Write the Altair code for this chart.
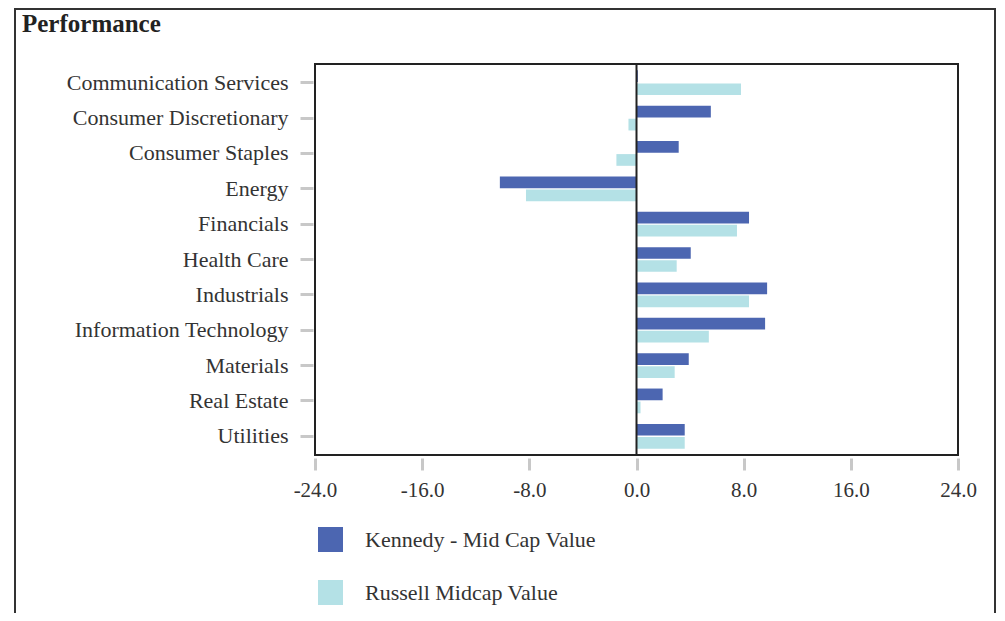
import altair as alt
import pandas as pd

categories = ["Communication Services", "Consumer Discretionary", "Consumer Staples", "Energy",
              "Financials", "Health Care", "Industrials", "Information Technology",
              "Materials", "Real Estate", "Utilities"]
series_names = ["Kennedy - Mid Cap Value", "Russell Midcap Value"]
kennedy = [0.1, 5.55, 3.15, -10.2, 8.4, 4.05, 9.75, 9.6, 3.9, 1.95, 3.6]
russell = [7.8, -0.6, -1.5, -8.25, 7.5, 3.0, 8.4, 5.4, 2.85, 0.3, 3.6]
x_ticks = [-24, -16, -8, 0, 8, 16, 24]
colors = ["#4C66B1", "#B4E1E6"]

rows = []
for c, k, r in zip(categories, kennedy, russell):
    rows.append({"cat": c, "series": series_names[0], "value": k})
    rows.append({"cat": c, "series": series_names[1], "value": r})
df = pd.DataFrame(rows)

FONT = "Liberation Serif"
TXT = "#333333"

bars = alt.Chart(df).mark_bar().encode(
    x=alt.X("value:Q", scale=alt.Scale(domain=[-24, 24], nice=False),
            axis=alt.Axis(values=x_ticks, title=None, grid=False, domain=False,
                          labelExpr="replace(format(datum.value, '.1f'), '\u2212', '-')",
                          tickColor="#c8c8c8", tickWidth=3, tickSize=12, offset=3,
                          labelPadding=9, labelFlush=False, labelFont=FONT, labelFontSize=21,
                          labelColor=TXT)),
    y=alt.Y("cat:N", sort=categories,
            scale=alt.Scale(paddingInner=0.3, paddingOuter=0.18),
            axis=alt.Axis(title=None, domain=False, tickColor="#c8c8c8", tickWidth=3,
                          tickSize=13, offset=2, labelPadding=12, labelFont=FONT,
                          labelFontSize=22, labelColor=TXT, labelLimit=400)),
    yOffset=alt.YOffset("series:N", sort=series_names, scale=alt.Scale(paddingInner=0.1)),
    color=alt.Color("series:N", sort=series_names,
                    scale=alt.Scale(domain=series_names, range=colors),
                    legend=alt.Legend(title=None, orient="none", legendX=3, legendY=463,
                                      direction="vertical", symbolType="square",
                                      symbolSize=625, symbolStrokeWidth=0, symbolOpacity=1,
                                      labelFont=FONT, labelFontSize=22, labelColor=TXT,
                                      labelLimit=400, rowPadding=28, labelOffset=22)),
)

zero = alt.Chart(pd.DataFrame({"z": [0]})).mark_rule(color="#222222", strokeWidth=2).encode(
    x="z:Q"
)

frame_df = pd.DataFrame({"f": [1]})
frame = alt.Chart(frame_df).mark_rect(fillOpacity=0, stroke="#333333", strokeWidth=2).encode(
    x=alt.value(-300), x2=alt.value(680), y=alt.value(-55), y2=alt.value(600)
)
title = alt.Chart(frame_df).mark_text(text="Performance", align="left", baseline="alphabetic",
                                      font=FONT, fontSize=25, fontWeight="bold",
                                      color="#222222").encode(
    x=alt.value(-293), y=alt.value(-32)
)

chart = alt.layer(frame, bars, zero, title).properties(
    width=643, height=391,
    autosize=alt.AutoSizeParams(type="none"),
    padding={"left": 307, "top": 56, "right": 39, "bottom": 158},
).configure_view(stroke="#222222", strokeWidth=2)

chart.save("out.html", embed_options={"renderer": "svg", "actions": False})
